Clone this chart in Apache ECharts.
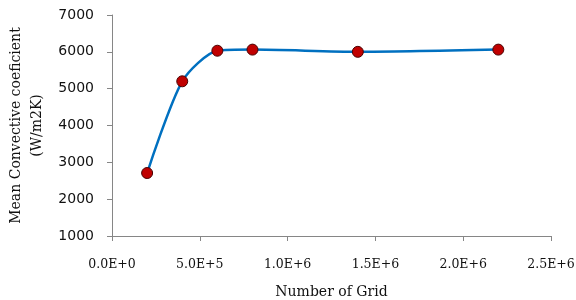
<!DOCTYPE html>
<html>
<head>
<meta charset="utf-8">
<script src="https://cdn.jsdelivr.net/npm/echarts@6/dist/echarts.min.js"></script>
<style>
  html, body { margin: 0; padding: 0; background: #fff; }
  #chart { width: 576px; height: 300px; }
</style>
</head>
<body>
<div id="chart"></div>
<script>
// grid sizes vs mean convective coefficient
const gridCounts = [2e5, 4e5, 6e5, 8e5, 1.4e6, 2.2e6];
const coefValues = [2710, 5200, 6030, 6060, 6000, 6060];
const xTickLabels = ['0.0E+0', '5.0E+5', '1.0E+6', '1.5E+6', '2.0E+6', '2.5E+6'];

const serif = 'DejaVu Serif';
const sans = 'DejaVu Sans';

const chart = echarts.init(document.getElementById('chart'), null, {renderer: 'canvas'});

chart.setOption({
    animation: false,
    grid: {left: 112, right: 25, top: 15, bottom: 64, outerBoundsMode: 'none'},
    xAxis: {
        type: 'value',
        min: 0,
        max: 2.5e6,
        interval: 5e5,
        name: 'Number of Grid',
        nameLocation: 'middle',
        nameGap: 49,
        nameTextStyle: {fontFamily: serif, fontSize: 14, color: '#111'},
        axisLine: {show: true, lineStyle: {color: '#868686', width: 1}},
        axisTick: {show: true, length: 5, lineStyle: {color: '#868686'}},
        splitLine: {show: false},
        axisLabel: {
            margin: 22,
            fontFamily: serif,
            fontSize: 12.5,
            color: '#111',
            formatter: (v) => xTickLabels[Math.round(v / 5e5)]
        }
    },
    yAxis: {
        type: 'value',
        min: 1000,
        max: 7000,
        interval: 1000,
        name: 'Mean Convective coeficient\n(W/m2K)',
        nameLocation: 'middle',
        nameGap: 64,
        nameRotate: 90,
        nameTextStyle: {fontFamily: serif, fontSize: 14, color: '#111', lineHeight: 21},
        axisLine: {show: true, lineStyle: {color: '#868686', width: 1}},
        axisTick: {show: true, length: 5, lineStyle: {color: '#868686'}},
        splitLine: {show: false},
        axisLabel: {margin: 18, fontFamily: sans, fontSize: 14, color: '#111', formatter: (v) => String(v)}
    },
    series: [
        {
            type: 'line',
            data: gridCounts.map((g, i) => [g, coefValues[i]]),
            smooth: 0.25,
            symbol: 'circle',
            symbolSize: 11,
            lineStyle: {color: '#0070C0', width: 2.5},
            itemStyle: {color: '#C00000', borderColor: '#4a0000', borderWidth: 1}
        }
    ]
});
</script>
</body>
</html>
